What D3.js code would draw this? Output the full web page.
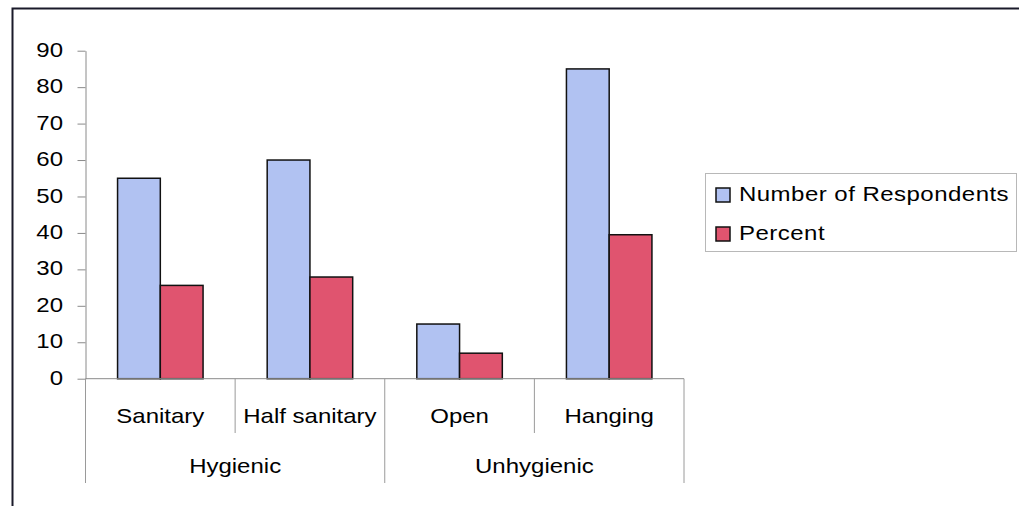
<!DOCTYPE html>
<html>
<head>
<meta charset="utf-8">
<script src="https://cdnjs.cloudflare.com/ajax/libs/d3/7.8.5/d3.min.js"></script>
<style>
    body { margin: 0; background: #fff; }
    svg { display: block; }
    text { font-family: "Liberation Sans", Arial, sans-serif; fill: #000; }
</style>
</head>
<body>
<svg id="chart" width="1019" height="506"></svg>
<script>
'use strict';

// data
const categories = ["Sanitary", "Half sanitary", "Open", "Hanging"];
const groups = ["Hygienic", "Hygienic", "Unhygienic", "Unhygienic"];
const seriesNames = ["Number of Respondents", "Percent"];
const respondents = [55, 60, 15, 85];
const percent = [25.6, 27.9, 7.0, 39.5];
const yTicks = [0, 10, 20, 30, 40, 50, 60, 70, 80, 90];
const colors = ["#b1c2f2", "#e0546f"];

const stretch = "scale(1.2,1)"; // the picture's text is drawn a bit wide

function main() {
    const svg = d3.select("#chart");
    const plot = {left: 85.5, right: 684, top: 50.7, bottom: 378.7};

    // outer frame (only top and left edges show)
    svg.append("path")
        .attr("d", `M12.5,506 V8.5 H1019`)
        .attr("fill", "none")
        .attr("stroke", "#1a1a2a")
        .attr("stroke-width", 2);

    const x = d3.scaleBand().domain(categories).range([plot.left, plot.right]);
    const x1 = d3.scaleBand().domain(seriesNames).range([0, x.bandwidth()])
        .paddingInner(0).paddingOuter(0.75);
    const y = d3.scaleLinear().domain([0, 90]).range([plot.bottom, plot.top]);

    // y axis
    const yAxis = svg.append("g")
        .attr("transform", `translate(${plot.left},0)`)
        .call(d3.axisLeft(y).tickValues(yTicks).tickSize(8).tickSizeOuter(0));
    yAxis.select(".domain").attr("stroke", "#8a8a8a");
    yAxis.selectAll(".tick line").attr("stroke", "#8a8a8a");
    yAxis.selectAll(".tick text")
        .attr("x", null).attr("dy", "0.28em")
        .attr("transform", `translate(-22.5,0) ${stretch}`)
        .style("font-size", "20px").style("font-family", "Liberation Sans, Arial, sans-serif")
        .attr("fill", "#000");

    // bars
    const rows = categories.map((c, i) => ({cat: c, vals: [respondents[i], percent[i]]}));
    const cat = svg.selectAll(".cat").data(rows).enter().append("g")
        .attr("class", "cat")
        .attr("transform", d => `translate(${x(d.cat)},0)`);
    cat.selectAll("rect")
        .data(d => d.vals.map((v, j) => ({name: seriesNames[j], v, j})))
        .enter().append("rect")
        .attr("x", d => x1(d.name))
        .attr("y", d => y(d.v))
        .attr("width", x1.bandwidth())
        .attr("height", d => y(0) - y(d.v))
        .attr("fill", d => colors[d.j])
        .attr("stroke", "#111")
        .attr("stroke-width", 1.5);

    // x axis line
    svg.append("line")
        .attr("x1", plot.left).attr("x2", plot.right)
        .attr("y1", y(0)).attr("y2", y(0))
        .attr("stroke", "#8a8a8a");

    // dividers: short between categories, long between groups
    const edges = categories.map(c => x(c)).concat([plot.right]);
    edges.forEach((ex, i) => {
        const isGroupEdge = i == 0 || i == categories.length || groups[i] != groups[i-1];
        svg.append("line")
            .attr("x1", ex).attr("x2", ex)
            .attr("y1", y(0)).attr("y2", isGroupEdge ? 483 : 433)
            .attr("stroke", "#9a9a9a").attr("stroke-width", 1);
    });

    // category labels
    categories.forEach(c => {
        svg.append("text")
            .attr("transform", `translate(${x(c) + x.bandwidth()/2},423) ${stretch}`)
            .attr("text-anchor", "middle")
            .style("font-size", "20px")
            .text(c);
    });

    // group labels
    const groupNames = [...new Set(groups)];
    groupNames.forEach(g => {
        const members = categories.filter((c, i) => groups[i] == g);
        const gx0 = x(members[0]), gx1 = x(members[members.length-1]) + x.bandwidth();
        svg.append("text")
            .attr("transform", `translate(${(gx0 + gx1)/2},473) ${stretch}`)
            .attr("text-anchor", "middle")
            .style("font-size", "20px")
            .text(g);
    });

    // legend
    const legend = svg.append("g").attr("transform", "translate(705,173)");
    legend.append("rect")
        .attr("x", 0.5).attr("y", 0.5)
        .attr("width", 311).attr("height", 78)
        .attr("fill", "#fff")
        .attr("stroke", "#b8b8b8");
    seriesNames.forEach((s, i) => {
        const row = legend.append("g").attr("transform", `translate(0,${i*39})`);
        row.append("rect")
            .attr("x", 11).attr("y", 15)
            .attr("width", 14).attr("height", 14)
            .attr("fill", colors[i])
            .attr("stroke", "#111").attr("stroke-width", 1.5);
        row.append("text")
            .attr("transform", `translate(34,28) ${stretch}`)
            .style("font-size", "20px")
            .style("letter-spacing", "0.4px")
            .text(s);
    });
}

main();
</script>
</body>
</html>
